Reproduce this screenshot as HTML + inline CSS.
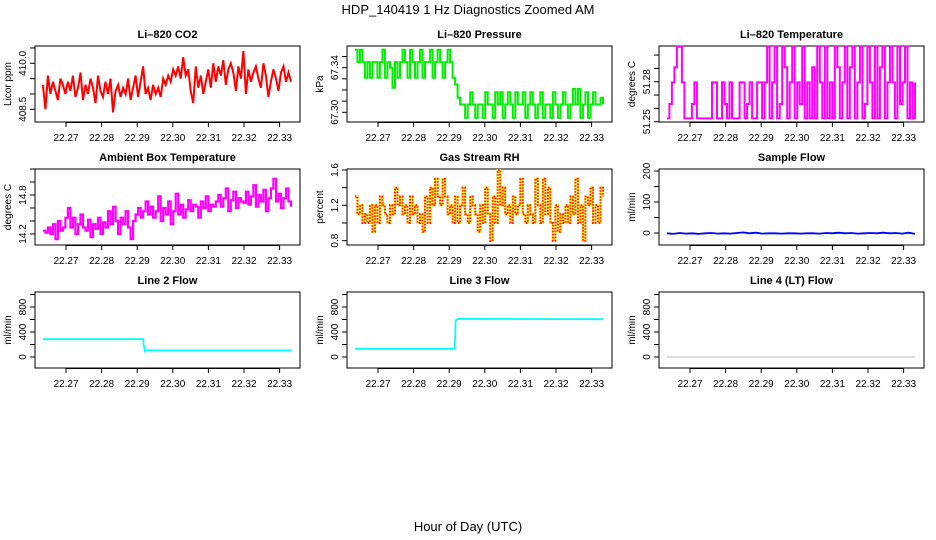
<!DOCTYPE html>
<html><head><meta charset="utf-8"><style>
html,body{margin:0;padding:0;background:#fff}
svg{display:block;font-family:"Liberation Sans",Arial,sans-serif}
</style></head><body>
<svg id="chart" width="936" height="540" viewBox="0 0 936 540">
<text x="468" y="14" text-anchor="middle" font-size="13">HDP_140419  1 Hz Diagnostics Zoomed AM</text>
<text x="468" y="531" text-anchor="middle" font-size="13">Hour of Day (UTC)</text>
</svg>
<script>
var xTicks = [22.27,22.28,22.29,22.30,22.31,22.32,22.33];
var tStart = 22.2635, tEnd = 22.3332;
var co2 = [409.3,408.5,409.6,409.0,409.4,409.1,408.8,409.5,409.3,409.0,
409.4,409.1,409.6,408.9,409.2,409.7,408.8,409.3,409.0,409.5,
409.2,408.7,409.6,409.1,408.9,409.4,409.0,409.5,408.4,409.1,
409.3,408.9,409.2,409.0,409.5,408.8,409.2,409.6,408.9,409.4,
409.9,409.0,409.2,408.8,409.3,409.0,409.2,408.9,409.5,409.3,
409.6,409.4,409.8,409.6,409.9,409.5,410.2,409.6,409.8,409.1,
408.7,409.9,409.2,409.6,409.0,409.4,409.8,409.2,410.0,409.4,
409.9,409.6,410.1,409.3,409.8,410.0,409.7,409.1,409.9,409.5,
410.4,409.0,409.8,409.4,409.7,409.9,409.5,409.2,410.0,409.6,
408.9,409.4,409.8,409.5,409.1,409.7,409.9,409.4,409.7,409.4];
var pressure = [67.356,67.345,67.356,67.345,67.331,67.345,67.331,67.345,67.345,67.331,
67.345,67.356,67.331,67.345,67.340,67.322,67.345,67.331,67.345,67.356,
67.345,67.331,67.356,67.345,67.331,67.345,67.356,67.331,67.345,67.345,
67.356,67.331,67.345,67.356,67.345,67.331,67.345,67.356,67.345,67.331,
67.325,67.313,67.307,67.307,67.295,67.307,67.318,67.307,67.295,67.307,
67.307,67.295,67.318,67.307,67.307,67.295,67.318,67.307,67.318,67.295,
67.307,67.318,67.307,67.295,67.318,67.307,67.307,67.318,67.295,67.307,
67.318,67.307,67.295,67.307,67.318,67.295,67.307,67.307,67.295,67.318,
67.307,67.295,67.307,67.318,67.307,67.295,67.307,67.321,67.307,67.321,
67.295,67.307,67.318,67.295,67.307,67.318,67.307,67.307,67.313,67.307];
var licorTemp = [51.2525,51.2633,51.2795,51.2908,51.3063,51.3063,51.2795,51.2525,51.2525,51.2525,
51.2633,51.2795,51.2525,51.2525,51.2525,51.2525,51.2525,51.2525,51.2795,51.2795,
51.2525,51.2525,51.2795,51.2633,51.2525,51.2795,51.2525,51.2525,51.2525,51.2795,
51.2795,51.2525,51.2633,51.2795,51.2525,51.2525,51.2795,51.2795,51.2525,51.2795,
51.3063,51.2525,51.2795,51.3063,51.2525,51.2633,51.3063,51.2908,51.2525,51.2795,
51.3063,51.2525,51.2795,51.2633,51.3063,51.2525,51.2795,51.2525,51.2908,51.2525,
51.3063,51.2795,51.2525,51.3063,51.2525,51.2795,51.2525,51.3063,51.2908,51.2525,
51.2795,51.3063,51.2525,51.2908,51.3063,51.2525,51.2795,51.3063,51.2525,51.2633,
51.3063,51.2795,51.2525,51.3063,51.2525,51.2908,51.3063,51.2525,51.2795,51.3063,
51.2795,51.2525,51.3063,51.2633,51.2795,51.3063,51.2525,51.2795,51.2525,51.2795];
var ambient = [14.25,14.22,14.30,14.20,14.35,14.12,14.40,14.25,14.30,14.45,
14.60,14.30,14.45,14.20,14.35,14.50,14.30,14.25,14.42,14.15,
14.35,14.28,14.45,14.20,14.38,14.30,14.55,14.35,14.62,14.40,
14.20,14.45,14.35,14.55,14.30,14.12,14.40,14.50,14.60,14.45,
14.55,14.70,14.50,14.62,14.45,14.55,14.78,14.40,14.60,14.50,
14.70,14.35,14.55,14.82,14.50,14.65,14.45,14.58,14.72,14.55,
14.65,14.62,14.45,14.70,14.60,14.78,14.55,14.65,14.62,14.70,
14.80,14.62,14.75,14.90,14.55,14.72,14.85,14.60,14.75,14.70,
14.68,14.85,14.65,14.78,14.95,14.62,14.80,14.70,14.88,14.55,
14.75,14.90,15.05,14.70,14.82,14.60,14.75,14.90,14.70,14.62];
var rh = [1.3,1.1,1.2,1.0,1.1,1.0,1.2,0.9,1.2,1.0,
1.3,1.2,1.1,1.0,1.2,1.1,1.4,1.2,1.3,1.1,
1.2,1.0,1.3,1.1,1.2,1.0,1.1,0.9,1.3,1.0,
1.4,1.2,1.5,1.3,1.2,1.5,1.3,1.1,1.2,1.0,
1.3,1.0,1.2,1.4,1.1,1.0,1.3,1.2,1.1,0.9,
1.2,1.0,1.4,1.1,0.8,1.3,1.0,1.6,1.2,1.4,
1.1,1.2,1.0,1.3,1.1,1.2,1.5,1.1,1.0,1.2,
1.1,1.0,1.5,1.2,1.0,1.5,1.1,1.4,1.0,0.8,
1.2,0.9,1.1,1.0,1.2,1.0,1.3,1.1,1.5,1.0,
1.2,0.8,1.3,1.2,1.4,1.0,1.2,1.0,1.4,1.3];
var sampleFlow = [-1,-3,0,-2,-1,-3,-1,0,-2,-1,-2,0,2,-1,1,-2,-1,-1,-2,-1,-1,-2,-1,-1,-2,0,-1,1,-1,0,-2,-1,0,-1,1,-1,0,-2,1,-3];
var line2T = [22.2635,22.2917,22.2918,22.2922,22.2925,22.3332];
var line2V = [285,285,200,90,105,105];
var line3T = [22.2635,22.2915,22.2917,22.2918,22.2920,22.2925,22.3332];
var line3V = [130,130,370,560,600,610,605];
var line4T = [22.2635,22.3332];
var line4V = [0,0];

var NS = "http://www.w3.org/2000/svg";
var svg = document.getElementById('chart');
var colLeft = [35,347,659], rowTop = [46,169,292], W = 265, H = 76;
var xMin = 22.26129, xMax = 22.33573;
function mk(tag, attrs, parent){ var e=document.createElementNS(NS,tag); for(var k in attrs) e.setAttribute(k,attrs[k]); (parent||svg).appendChild(e); return e; }
function times(n){ var a=[]; for(var i=0;i<n;i++) a.push(tStart+(tEnd-tStart)*i/(n-1)); return a; }
function slug(s){ return s.toLowerCase().replace(/[^a-z0-9]+/g,'-').replace(/^-|-$/g,''); }

function panel(col,row,title,ylab,yMin,yMax,yticks,ylabels,ts,vs,color,opts){
  var L=colLeft[col], T=rowTop[row], id=slug(title);
  var g=mk('g',{});
  
  
  function sx(t){ return L+(t-xMin)/(xMax-xMin)*W; }
  function sy(v){ return T+H-(v-yMin)/(yMax-yMin)*H; }
  var box=mk('rect',{x:L,y:T,width:W,height:H,fill:'none',stroke:'#000','stroke-width':1},g);
  
  
  var tt=mk('text',{x:L+W/2,y:T-8,'text-anchor':'middle','font-size':11,'font-weight':'bold'},g);
  tt.textContent=title;
  
  
  var xa=mk('g',{},g);
  
  
  mk('line',{x1:sx(xTicks[0]),x2:sx(xTicks[xTicks.length-1]),y1:T+H+0.5,y2:T+H+0.5,stroke:'#000'},xa);
  xTicks.forEach(function(t){
    var x=sx(t);
    mk('line',{x1:x,x2:x,y1:T+H,y2:T+H+5,stroke:'#000'},xa);
    var lb=mk('text',{x:x,y:T+H+19,'text-anchor':'middle','font-size':10},xa);
    lb.textContent=t.toFixed(2);
    
    
  });
  var ya=mk('g',{},g);
  
  
  yticks.forEach(function(v){
    var y=sy(v);
    mk('line',{x1:L-5,x2:L,y1:y,y2:y,stroke:'#000'},ya);
  });
  ylabels.forEach(function(v){
    var y=sy(v.val);
    var lb=mk('text',{x:L-9,y:y,'text-anchor':'middle','font-size':10,transform:'rotate(-90 '+(L-9)+' '+y+')'},ya);
    lb.textContent=v.txt;
    
    
  });
  var yt=mk('text',{x:L-24,y:T+H/2,'text-anchor':'middle','font-size':10,transform:'rotate(-90 '+(L-24)+' '+(T+H/2)+')'},g);
  yt.textContent=ylab;
  
  
  var d='';
  for(var i=0;i<ts.length;i++){
    var x=sx(ts[i]).toFixed(1), y=sy(vs[i]).toFixed(1);
    if(i==0) d='M'+x+' '+y;
    else if(opts.step) d+=' H'+x+' V'+y;
    else d+=' L'+x+' '+y;
  }
  if(opts.under){
    var u=mk('path',{d:d,fill:'none',stroke:opts.under,'stroke-width':opts.w||1.5},g);
    
    
  }
  var p=mk('path',{d:d,fill:'none',stroke:color,'stroke-width':opts.w||1.5},g);
  if(opts.dash) p.setAttribute('stroke-dasharray',opts.dash);
  
  
}
function lab(vals,fmt){ return vals.map(function(v){return {val:v,txt:v.toFixed(fmt)};}); }

panel(0,0,'Li–820 CO2','Licor ppm',408.086,410.564,[408.5,409,409.5,410,410.5],lab([408.5,410.0],1),times(co2.length),co2,'#ff0000',{w:2});
panel(1,0,'Li–820 Pressure','kPa',67.2913,67.3594,[67.30,67.31,67.32,67.33,67.34,67.35],lab([67.30,67.34],2),times(pressure.length),pressure,'#00ee00',{step:true,w:2});
panel(2,0,'Li–820 Temperature','degrees C',51.2498,51.3068,[51.25,51.26,51.27,51.28,51.29,51.30],lab([51.25,51.28],2),times(licorTemp.length),licorTemp,'#ff00ff',{step:true,w:2});
panel(0,1,'Ambient Box Temperature','degrees C',14.03,15.2,[14.2,14.4,14.6,14.8,15.0,15.2],lab([14.2,14.8],1),times(ambient.length),ambient,'#ff00ff',{step:true,w:2.2});
panel(1,1,'Gas Stream RH','percent',0.751,1.611,[0.8,1.0,1.2,1.4,1.6],lab([0.8,1.2,1.6],1),times(rh.length),rh,'#ff2000',{step:true,w:2,under:'#ffee00',dash:'1.5 1.5'});
panel(2,1,'Sample Flow','ml/min',-38.7,206.5,[0,50,100,150,200],lab([0,100,200],0),times(sampleFlow.length),sampleFlow,'#0000ff',{w:1.8});
panel(0,2,'Line 2 Flow','ml/min',-176,1040,[0,200,400,600,800,1000],lab([0,400,800],0),line2T,line2V,'#00ffff',{w:1.8});
panel(1,2,'Line 3 Flow','ml/min',-176,1040,[0,200,400,600,800,1000],lab([0,400,800],0),line3T,line3V,'#00ffff',{w:1.8});
panel(2,2,'Line 4 (LT) Flow','ml/min',-176,1040,[0,200,400,600,800,1000],lab([0,400,800],0),line4T,line4V,'#bebebe',{w:1});
</script>
</body></html>
